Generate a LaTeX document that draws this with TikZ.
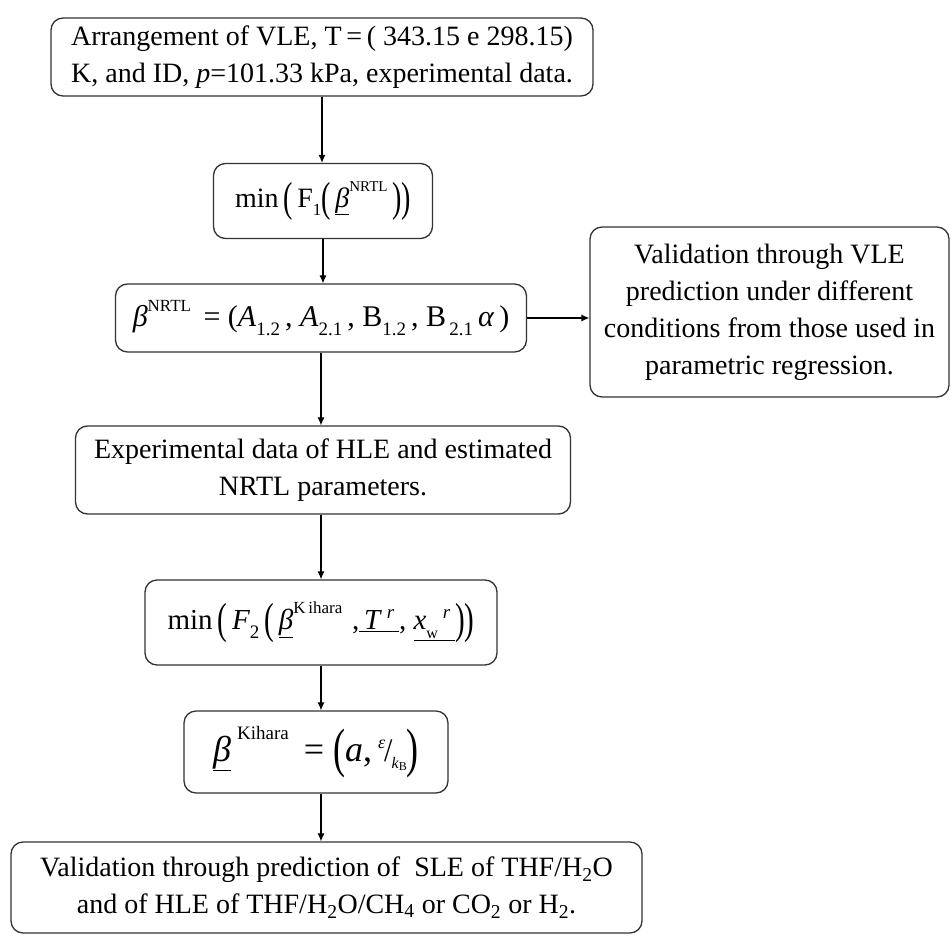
\documentclass[tikz,border=0pt]{standalone}
\usepackage{fontspec}
\setmainfont{Liberation Serif}
\usepackage{graphicx}
\usetikzlibrary{arrows.meta}
\newcommand\bigpar[1]{\raisebox{-0.14em}{\scalebox{1}[1.5]{#1}}}
\newcommand\sz[2]{{\fontsize{#1}{#1}\selectfont #2}}
\tikzset{
  box/.style={draw=black!80, line width=1.3pt, rounded corners=12pt, align=center, inner sep=0pt,
    font=\fontsize{28}{37}\selectfont},
  arr/.style={line width=1.1pt, -{Latex[length=8pt,width=7pt]}}
}
\begin{document}
\begin{tikzpicture}[x=1pt,y=-1pt]
\useasboundingbox (0,0) rectangle (952,936);
\node[box, minimum width=542pt, minimum height=78pt] (b1) at (322,57)
  {Arrangement of VLE, T\,=\,( 343.15 e 298.15)\\K, and ID, \textit{p}=101.33 kPa, experimental data.};
\node[box, minimum width=219pt, minimum height=75pt] (b2) at (323,201)
  {min\,\bigpar{(}\,F\raisebox{-0.3em}{\sz{17}{1}}\bigpar{(}\,\underline{\textit{β}}\raisebox{0.55em}{\sz{15}{NRTL}}\,\bigpar{)}\bigpar{)}};
\node[box, minimum width=411pt, minimum height=68pt, font=\fontsize{30}{37}\selectfont] (b3) at (321,318)
  {\textit{β}\raisebox{0.5em}{\sz{17}{NRTL}}\, = (\textit{A}\raisebox{-0.3em}{\sz{19}{1.2}}\,, \textit{A}\raisebox{-0.3em}{\sz{19}{2.1}}\,, B\raisebox{-0.3em}{\sz{19}{1.2}}\,, B\raisebox{-0.3em}{\sz{19}{\,2.1}}\,\textit{α}\,)};
\node[box, minimum width=359pt, minimum height=170pt] (b4) at (769.5,312)
  {Validation through VLE\\prediction under different\\conditions from those used in\\parametric regression.};
\node[box, minimum width=495pt, minimum height=88pt] (b5) at (323,470)
  {Experimental data of HLE and estimated\\NRTL parameters.};
\node[box, minimum width=352pt, minimum height=85pt, font=\fontsize{29}{37}\selectfont] (b6) at (321,622.5)
  {min\,\bigpar{(}\,\textit{F}\raisebox{-0.3em}{\sz{19}{2}}\,\bigpar{(}\,\underline{\textit{β}}\raisebox{0.55em}{\sz{17}{K\,ihara}}\,\,,\underline{\,\textit{T}\,\raisebox{0.4em}{\sz{19}{\textit{r}}}\,}, \underline{\textit{x}\raisebox{-0.3em}{\sz{16}{w}}\,\raisebox{0.4em}{\sz{19}{\textit{r}}}\,}\bigpar{)}\bigpar{)}};
\node[box, minimum width=264pt, minimum height=82pt, font=\fontsize{36}{37}\selectfont] (b7) at (316,752)
  {\underline{\textit{β}}\,\raisebox{0.6em}{\sz{19}{Kihara}}\, = \bigpar{(}\textit{a},\,\raisebox{0.35em}{\sz{18}{\textit{ε}}}\kern-1pt\scalebox{1}[1.1]{\sz{30}{/}}\kern-1pt\raisebox{-0.2em}{\sz{16}{\textit{k}\raisebox{-0.15em}{\sz{12}{B}}}}\bigpar{)}};
\node[box, minimum width=631pt, minimum height=91pt] (b8) at (326.5,887.5)
  {Validation through prediction of \ SLE of THF/H\textsubscript{2}O\\and of HLE of THF/H\textsubscript{2}O/CH\textsubscript{4} or CO\textsubscript{2} or H\textsubscript{2}.};
\draw[arr] (b1) -- (b1.south |- b2.north);
\draw[arr] (b2) -- (b2.south |- b3.north);
\draw[arr] (b3) -- (b3.south |- b5.north);
\draw[arr] (b6.north |- b5.south) -- (b6.north);
\draw[arr] (b6.north |- b6.south) -- (b6.north |- b7.north);
\draw[arr] (b6.north |- b7.south) -- (b6.north |- b8.north);
\draw[arr] (b3.east) -- (b4.west |- b3.east);
\end{tikzpicture}
\end{document}
